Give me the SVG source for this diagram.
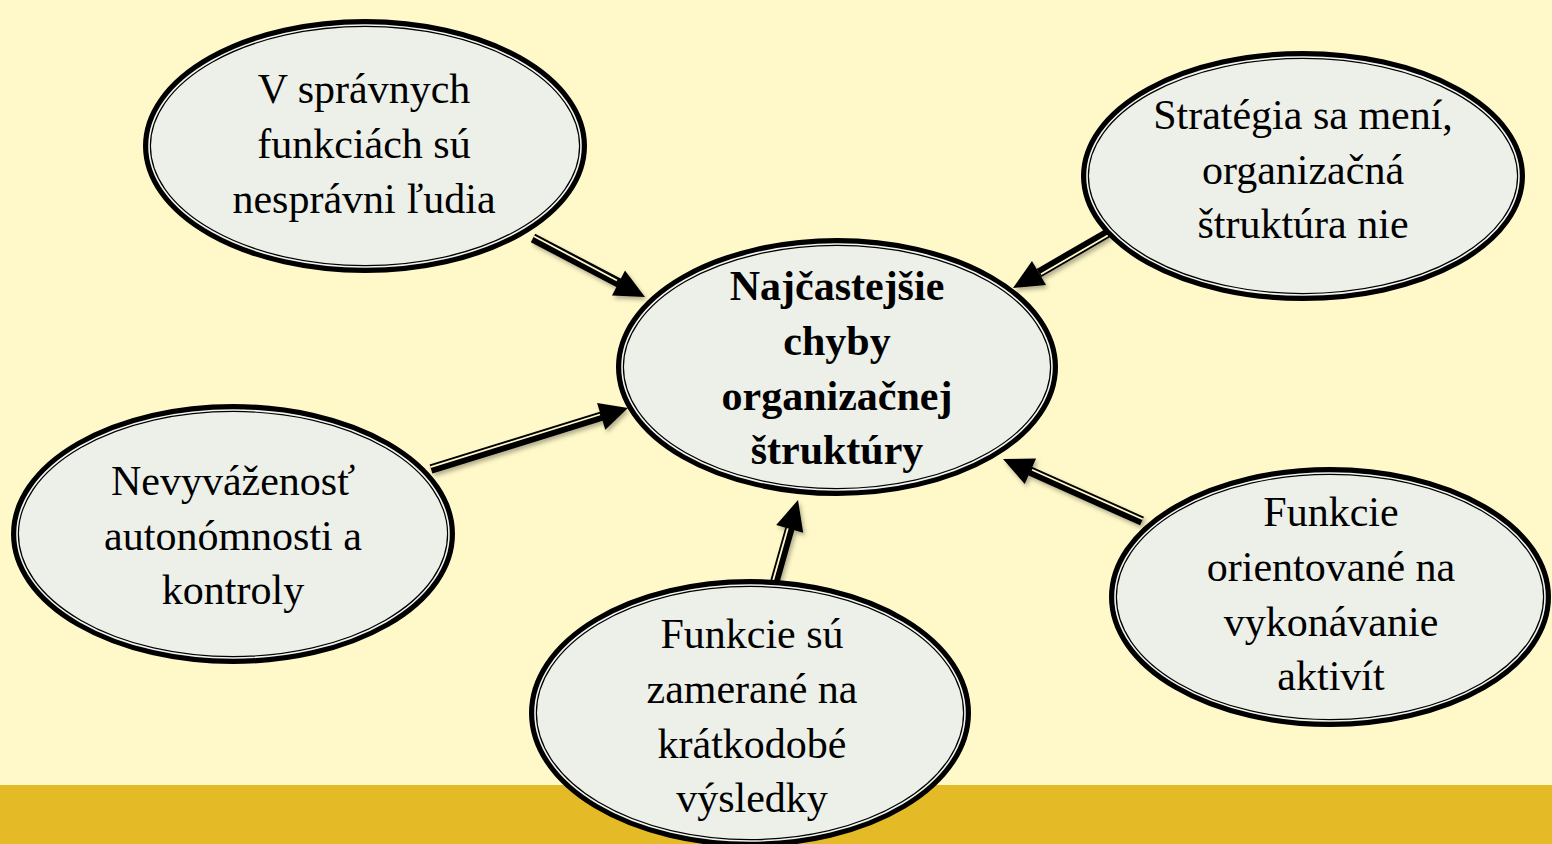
<svg xmlns="http://www.w3.org/2000/svg" width="1552" height="844" viewBox="0 0 1552 844">
  <style>
    .rim { fill: #EDEFE9; stroke: #000; stroke-width: 8; }
    .gap { fill: none; stroke: #F4F4EE; stroke-width: 1.6; }
    .lbl { font-family: "Liberation Serif", "Times New Roman", serif; font-size: 42px; fill: #000; text-anchor: middle; }
    .bold { font-weight: bold; }
    .shaft { stroke: #000; stroke-width: 9.5; stroke-linecap: butt; fill: none; }
    .stripe { stroke: #FFF9C9; stroke-width: 1.8; fill: none; }
    .head { fill: #000; }
  </style>
  <defs>
    <filter id="shadow" x="-20%" y="-20%" width="140%" height="140%">
      <feDropShadow dx="2" dy="3" stdDeviation="2" flood-color="#000" flood-opacity="0.3"/>
    </filter>
  </defs>

  <!-- background and bottom band -->
  <rect x="0" y="0" width="1552" height="844" fill="#FFF9C9"/>
  <rect x="0" y="785" width="1552" height="59" fill="#E4BB27"/>

  <!-- connectors -->
  <g id="connectors" filter="url(#shadow)">
    <g id="arrow-top-left">
      <line class="shaft" x1="533" y1="238" x2="619" y2="283"/>
      <line class="stripe" x1="533.9" y1="236.2" x2="617" y2="280.5"/>
      <polygon class="head" points="645,297 625,270.6 612,295.4"/>
    </g>
    <g id="arrow-top-right">
      <line class="shaft" x1="1108" y1="233" x2="1039" y2="273"/>
      <line class="stripe" x1="1109" y1="234.7" x2="1041" y2="274.2"/>
      <polygon class="head" points="1013,288 1046,285.1 1032,260.9"/>
    </g>
    <g id="arrow-left">
      <line class="shaft" x1="431" y1="469" x2="602" y2="416"/>
      <line class="stripe" x1="430.4" y1="467.1" x2="600" y2="414.5"/>
      <polygon class="head" points="628,408 597.1,402.9 605.3,429.7"/>
    </g>
    <g id="arrow-bottom">
      <line class="shaft" x1="775" y1="581" x2="790" y2="528"/>
      <line class="stripe" x1="773.1" y1="580.4" x2="788" y2="527.5"/>
      <polygon class="head" points="798,500 776.2,524.9 803.2,532.7"/>
    </g>
    <g id="arrow-bottom-right">
      <line class="shaft" x1="1142" y1="521" x2="1030" y2="471"/>
      <line class="stripe" x1="1142.8" y1="519.2" x2="1032" y2="469.7"/>
      <polygon class="head" points="1003,459 1036.1,458.4 1024.7,484"/>
    </g>
  </g>

  <!-- center node -->
  <g id="node-center">
    <ellipse class="rim" cx="837" cy="367" rx="217" ry="125"/>
    <ellipse class="gap" cx="837" cy="367" rx="215" ry="123"/>
    <text class="lbl bold" x="837" y="300">Najčastejšie</text>
    <text class="lbl bold" x="837" y="355">chyby</text>
    <text class="lbl bold" x="837" y="410">organizačnej</text>
    <text class="lbl bold" x="837" y="464">štruktúry</text>
  </g>

  <!-- outer nodes -->
  <g id="node-top-left">
    <ellipse class="rim" cx="365" cy="146" rx="218" ry="123"/>
    <ellipse class="gap" cx="365" cy="146" rx="216" ry="121"/>
    <text class="lbl" x="364" y="103">V správnych</text>
    <text class="lbl" x="364" y="158">funkciách sú</text>
    <text class="lbl" x="364" y="213">nesprávni ľudia</text>
  </g>

  <g id="node-top-right">
    <ellipse class="rim" cx="1303" cy="176" rx="218" ry="121"/>
    <ellipse class="gap" cx="1303" cy="176" rx="216" ry="119"/>
    <text class="lbl" x="1303" y="129">Stratégia sa mení,</text>
    <text class="lbl" x="1303" y="184">organizačná</text>
    <text class="lbl" x="1303" y="238">štruktúra nie</text>
  </g>

  <g id="node-left">
    <ellipse class="rim" cx="233" cy="534" rx="218" ry="126"/>
    <ellipse class="gap" cx="233" cy="534" rx="216" ry="124"/>
    <text class="lbl" x="233" y="495">Nevyváženosť</text>
    <text class="lbl" x="233" y="550">autonómnosti a</text>
    <text class="lbl" x="233" y="604">kontroly</text>
  </g>

  <g id="node-bottom">
    <ellipse class="rim" cx="750" cy="713" rx="217" ry="130"/>
    <ellipse class="gap" cx="750" cy="713" rx="215" ry="128"/>
    <text class="lbl" x="752" y="648">Funkcie sú</text>
    <text class="lbl" x="752" y="703">zamerané na</text>
    <text class="lbl" x="752" y="758">krátkodobé</text>
    <text class="lbl" x="752" y="812">výsledky</text>
  </g>

  <g id="node-bottom-right">
    <ellipse class="rim" cx="1330" cy="597" rx="217" ry="126"/>
    <ellipse class="gap" cx="1330" cy="597" rx="215" ry="124"/>
    <text class="lbl" x="1331" y="526">Funkcie</text>
    <text class="lbl" x="1331" y="581">orientované na</text>
    <text class="lbl" x="1331" y="636">vykonávanie</text>
    <text class="lbl" x="1331" y="690">aktivít</text>
  </g>
</svg>
